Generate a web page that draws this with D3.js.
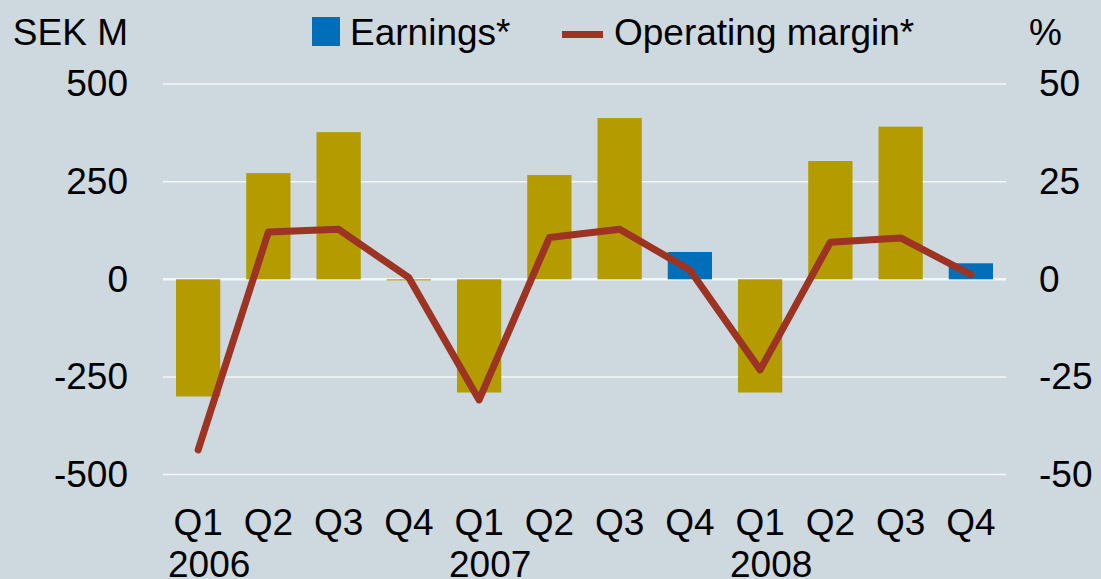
<!DOCTYPE html>
<html>
<head>
<meta charset="utf-8">
<script src="https://cdn.jsdelivr.net/npm/d3@7"></script>
<style>
  body { margin: 0; background: #cdd8df; }
  svg text { font-family: "Liberation Sans", Arial, sans-serif; fill: #000; }
</style>
</head>
<body>
<div id="chart"></div>
<script>
// data
const QUARTERS = ["Q1", "Q2", "Q3", "Q4", "Q1", "Q2", "Q3", "Q4", "Q1", "Q2", "Q3", "Q4"];
const YEARS = ["2006", "2006", "2006", "2006", "2007", "2007", "2007", "2007", "2008", "2008", "2008", "2008"];
const EARNINGS = [-300, 272, 377, -3, -290, 267, 413, 70, -290, 303, 391, 41];
const MARGIN_PCT = [-43.7, 12.1, 12.8, 0.4, -30.9, 10.7, 12.8, 2.4, -23.2, 9.5, 10.6, 1.2];
const HIGHLIGHT = ["Q4 2007", "Q4 2008"];
const LEFT_TICKS = [-500, -250, 0, 250, 500];
const RIGHT_TICKS = [-50, -25, 0, 25, 50];

// frame constants
const FRAME_WIDTH = 1101;
const FRAME_HEIGHT = 579;
const PLOT = {left: 163, right: 1006, top: 84.1, bottom: 474.5};
const FONT = 37;

const COLORS = {bg: "#cdd8df", bar: "#b39b00", hi: "#006eb8", line: "#9c3323"};

const keys = QUARTERS.map((q, i) => q + " " + YEARS[i]);

const svg = d3.select("#chart")
    .append("svg")
        .attr("width", FRAME_WIDTH)
        .attr("height", FRAME_HEIGHT);

svg.append("rect")
    .attr("width", FRAME_WIDTH)
    .attr("height", FRAME_HEIGHT)
    .attr("fill", COLORS.bg);

// scales
const xScale = d3.scaleBand()
    .domain(keys)
    .range([PLOT.left, PLOT.right])
    .paddingInner(0.37)
    .paddingOuter(0.185);

const yLeft = d3.scaleLinear()
    .domain([-500, 500])
    .range([PLOT.bottom, PLOT.top]);

const yRight = d3.scaleLinear()
    .domain([-50, 50])
    .range([PLOT.bottom, PLOT.top]);

// gridlines
svg.append("g")
    .selectAll("line")
    .data(LEFT_TICKS)
    .enter()
    .append("line")
        .attr("x1", PLOT.left)
        .attr("x2", PLOT.right)
        .attr("y1", d => yLeft(d))
        .attr("y2", d => yLeft(d))
        .attr("stroke", "#f4f7f9")
        .attr("stroke-width", d => d === 0 ? 2.5 : 1.5);

// plain hyphen for negatives, like the original
const plain = d => String(d);

// left axis labels
const leftAxis = svg.append("g")
    .attr("transform", "translate(" + 128 + ",0)")
    .call(d3.axisLeft(yLeft).tickValues(LEFT_TICKS).tickFormat(plain).tickSize(0).tickPadding(0));
leftAxis.select(".domain").remove();
leftAxis.selectAll("text")
    .attr("font-size", FONT)
    .attr("font-family", null);

// right axis labels
const rightAxis = svg.append("g")
    .attr("transform", "translate(" + 1039 + ",0)")
    .call(d3.axisRight(yRight).tickValues(RIGHT_TICKS).tickFormat(plain).tickSize(0).tickPadding(0));
rightAxis.select(".domain").remove();
rightAxis.selectAll("text")
    .attr("font-size", FONT)
    .attr("font-family", null);

// axis titles
svg.append("text")
    .attr("x", 128)
    .attr("y", 45)
    .attr("text-anchor", "end")
    .attr("font-size", FONT)
    .text("SEK M");

svg.append("text")
    .attr("x", 1029)
    .attr("y", 45)
    .attr("font-size", FONT)
    .text("%");

// bars
svg.append("g")
    .selectAll("rect")
    .data(EARNINGS)
    .enter()
    .append("rect")
        .attr("x", (d, i) => xScale(keys[i]))
        .attr("width", xScale.bandwidth())
        .attr("y", d => yLeft(Math.max(0, d)))
        .attr("height", d => Math.abs(yLeft(d) - yLeft(0)))
        .attr("fill", (d, i) => HIGHLIGHT.includes(keys[i]) ? COLORS.hi : COLORS.bar);

// operating margin line
const line = d3.line()
    .x((d, i) => xScale(keys[i]) + xScale.bandwidth() / 2)
    .y(d => yRight(d));

svg.append("path")
    .datum(MARGIN_PCT)
    .attr("d", line)
    .attr("fill", "none")
    .attr("stroke", COLORS.line)
    .attr("stroke-width", 7)
    .attr("stroke-linejoin", "round")
    .attr("stroke-linecap", "round");

// x labels: quarters and years
const xAxis = svg.append("g")
    .attr("transform", "translate(0," + 535 + ")");
xAxis.selectAll(".q")
    .data(keys)
    .enter()
    .append("text")
        .attr("class", "q")
        .attr("x", d => xScale(d) + xScale.bandwidth() / 2)
        .attr("text-anchor", "middle")
        .attr("font-size", FONT)
        .text((d, i) => QUARTERS[i]);

xAxis.selectAll(".y")
    .data(keys.filter((d, i) => i === 0 || YEARS[i] !== YEARS[i - 1]))
    .enter()
    .append("text")
        .attr("class", "y")
        .attr("x", d => xScale(d) - 8)
        .attr("y", 42)
        .attr("font-size", FONT)
        .text(d => d.split(" ")[1]);

// legend
const legend = svg.append("g");
legend.append("rect")
    .attr("x", 312)
    .attr("y", 17)
    .attr("width", 28)
    .attr("height", 29)
    .attr("fill", COLORS.hi);
legend.append("text")
    .attr("x", 350)
    .attr("y", 45)
    .attr("font-size", FONT)
    .text("Earnings*");
legend.append("line")
    .attr("x1", 562)
    .attr("x2", 603)
    .attr("y1", 34.5)
    .attr("y2", 34.5)
    .attr("stroke", COLORS.line)
    .attr("stroke-width", 7);
legend.append("text")
    .attr("x", 614)
    .attr("y", 45)
    .attr("font-size", FONT)
    .text("Operating margin*");
</script>
</body>
</html>
